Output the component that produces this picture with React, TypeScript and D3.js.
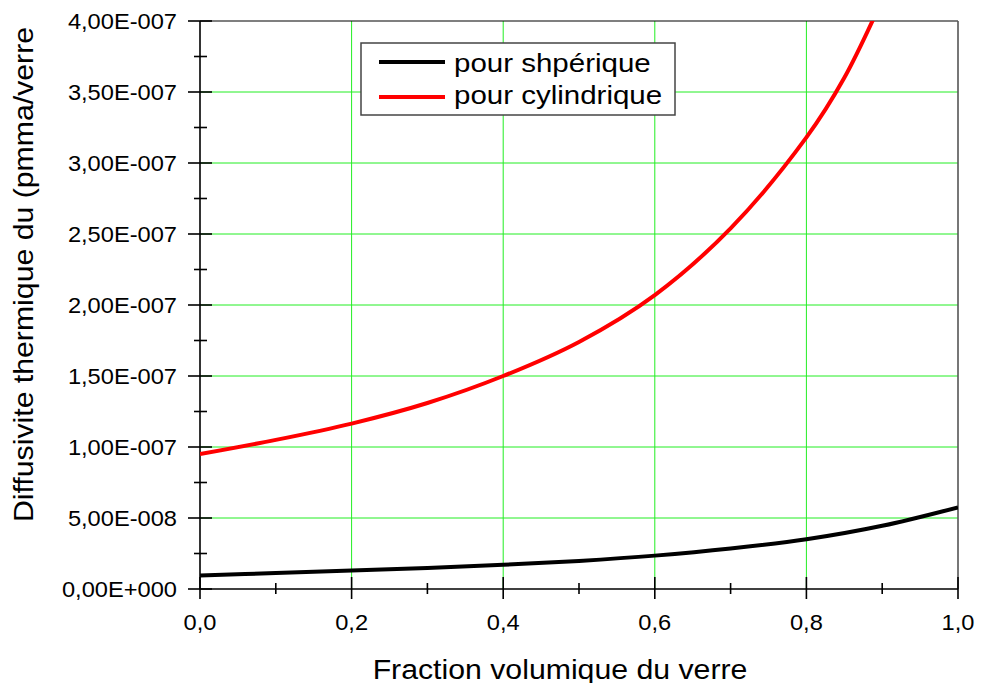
import React from "react";
import * as d3 from "d3";

const xSpherique = [0, 0.1, 0.2, 0.3, 0.4, 0.5, 0.6, 0.7, 0.8, 0.9, 1.0];
const ySpherique = [0.95e-8, 1.12e-8, 1.3e-8, 1.48e-8, 1.7e-8, 1.98e-8, 2.35e-8, 2.85e-8, 3.5e-8, 4.45e-8, 5.75e-8];

const xCylindrique = [0, 0.1, 0.2, 0.3, 0.4, 0.5, 0.6, 0.7, 0.8, 0.85, 0.9];
const yCylindrique = [0.95e-7, 1.05e-7, 1.165e-7, 1.31e-7, 1.5e-7, 1.74e-7, 2.07e-7, 2.54e-7, 3.18e-7, 3.6e-7, 4.15e-7];

const xTickValues = [0, 0.2, 0.4, 0.6, 0.8, 1.0];
const xTickLabels = ["0,0", "0,2", "0,4", "0,6", "0,8", "1,0"];
const xMinorTicks = [0.1, 0.3, 0.5, 0.7, 0.9];
const yTickValues = [0, 0.5e-7, 1.0e-7, 1.5e-7, 2.0e-7, 2.5e-7, 3.0e-7, 3.5e-7, 4.0e-7];
const yTickLabels = ["0,00E+000", "5,00E-008", "1,00E-007", "1,50E-007", "2,00E-007", "2,50E-007", "3,00E-007", "3,50E-007", "4,00E-007"];
const yMinorTicks = [0.25e-7, 0.75e-7, 1.25e-7, 1.75e-7, 2.25e-7, 2.75e-7, 3.25e-7, 3.75e-7];

const seriesNames = ["pour shpérique", "pour cylindrique"];
const seriesColors = ["#000000", "#ff0000"];
const xTitle = "Fraction volumique du verre";
const yTitle = "Diffusivite thermique du (pmma/verre";

const FONT = "'Liberation Sans', Arial, sans-serif";

export default function App() {
  const W = 981, H = 683;
  const left = 200, right = 958, top = 21, bottom = 589;
  const x = d3.scaleLinear().domain([0, 1]).range([left, right]);
  const y = d3.scaleLinear().domain([0, 4e-7]).range([bottom, top]);

  const line = d3
    .line<[number, number]>()
    .x((d) => x(d[0]))
    .y((d) => y(d[1]))
    .curve(d3.curveCatmullRom.alpha(0.5));

  const sph: [number, number][] = xSpherique.map((v, i) => [v, ySpherique[i]]);
  const cyl: [number, number][] = xCylindrique.map((v, i) => [v, yCylindrique[i]]);

  const grid = "#22ee22";

  return (
    <svg
      width={W}
      height={H}
      style={{ position: "absolute", left: 0, top: 0, background: "#fff" }}
      fontFamily={FONT}
    >
      <defs>
        <clipPath id="plotclip">
          <rect x={left} y={top} width={right - left} height={bottom - top} />
        </clipPath>
      </defs>
      <rect x={0} y={0} width={W} height={H} fill="#fff" />
      {/* grid */}
      {xTickValues.filter((v) => v > 0 && v < 1).map((v) => (
        <line key={"gx" + v} x1={x(v)} x2={x(v)} y1={top} y2={bottom} stroke={grid} strokeWidth={1} />
      ))}
      {yTickValues.filter((v) => v > 0 && v < 4e-7).map((v) => (
        <line key={"gy" + v} x1={left} x2={right} y1={y(v)} y2={y(v)} stroke={grid} strokeWidth={1} />
      ))}
      {/* frame */}
      <line x1={left} x2={right} y1={top} y2={top} stroke="#000" strokeWidth={1.2} />
      <line x1={right} x2={right} y1={top} y2={bottom} stroke="#555" strokeWidth={1.6} />
      <line x1={left} x2={left} y1={top} y2={bottom} stroke="#000" strokeWidth={1.6} />
      <line x1={left} x2={right} y1={bottom} y2={bottom} stroke="#000" strokeWidth={1.6} />
      {/* y ticks */}
      {yTickValues.map((v, i) => (
        <g key={"yt" + v}>
          <line x1={left - 12} x2={left + 12} y1={y(v)} y2={y(v)} stroke="#000" strokeWidth={1.6} />
          <text
            transform={`translate(${177},${y(v) + 7.5}) scale(1.1,1)`}
            textAnchor="end"
            fontSize={21.5}
            fill="#000"
          >
            {yTickLabels[i]}
          </text>
        </g>
      ))}
      {yMinorTicks.map((v) => (
        <line key={"ym" + v} x1={left - 6} x2={left + 7} y1={y(v)} y2={y(v)} stroke="#000" strokeWidth={1.6} />
      ))}
      {/* x ticks */}
      {xTickValues.map((v, i) => (
        <g key={"xt" + v}>
          <line x1={x(v)} x2={x(v)} y1={bottom - 12} y2={bottom + 10} stroke="#000" strokeWidth={1.6} />
          <text
            transform={`translate(${x(v)},${630}) scale(1.1,1)`}
            textAnchor="middle"
            fontSize={21.5}
            fill="#000"
          >
            {xTickLabels[i]}
          </text>
        </g>
      ))}
      {xMinorTicks.map((v) => (
        <line key={"xm" + v} x1={x(v)} x2={x(v)} y1={bottom - 6} y2={bottom + 5} stroke="#000" strokeWidth={1.6} />
      ))}
      {/* curves */}
      <g clipPath="url(#plotclip)">
        <path d={line(sph) || ""} fill="none" stroke={seriesColors[0]} strokeWidth={4} />
        <path d={line(cyl) || ""} fill="none" stroke={seriesColors[1]} strokeWidth={4} />
      </g>
      {/* legend */}
      <rect x={361} y={43} width={314} height={72} fill="#fff" stroke="#444" strokeWidth={1.5} />
      {seriesNames.map((name, i) => {
        const ly = i === 0 ? 62 : 97;
        const ty = i === 0 ? 72 : 104;
        return (
          <g key={name}>
            <line x1={379} x2={445} y1={ly} y2={ly} stroke={seriesColors[i]} strokeWidth={4} />
            <text transform={`translate(454,${ty}) scale(1.18,1)`} fontSize={25} fill="#000">
              {name}
            </text>
          </g>
        );
      })}
      {/* axis titles */}
      <text transform={`translate(560,679) scale(1.1,1)`} textAnchor="middle" fontSize={27.5} fill="#000">
        {xTitle}
      </text>
      <text
        transform={`translate(33,274.5) rotate(-90) scale(1.1,1)`}
        textAnchor="middle"
        fontSize={27.5}
        fill="#000"
      >
        {yTitle}
      </text>
    </svg>
  );
}
